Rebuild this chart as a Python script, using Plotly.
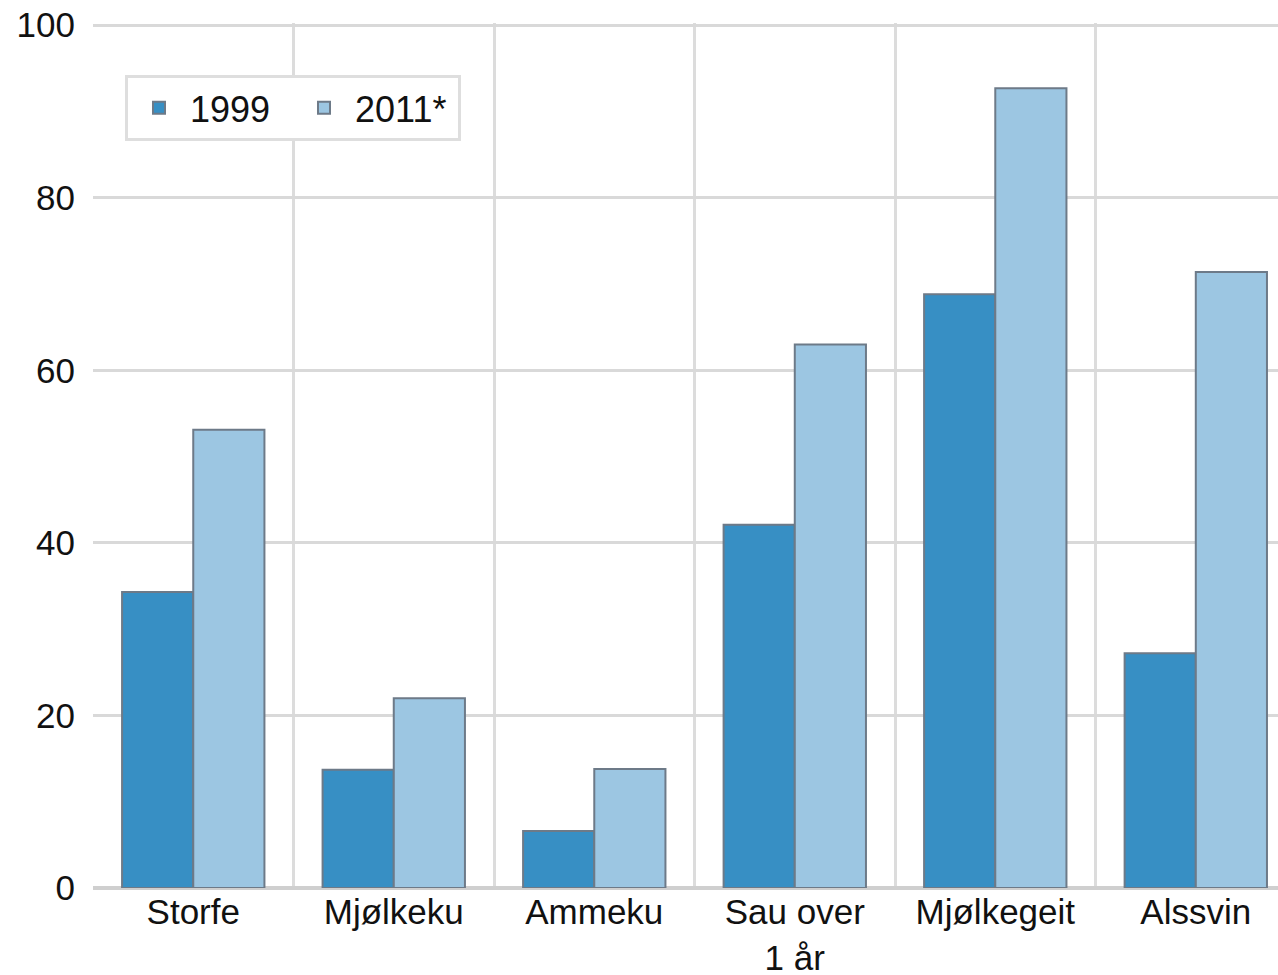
import plotly.graph_objects as go

categories = ["Storfe", "Mjølkeku", "Ammeku", "Sau over<br>1 år", "Mjølkegeit", "Alssvin"]
values_1999 = [34.3, 13.7, 6.6, 42.1, 68.8, 27.2]
values_2011 = [53.1, 22.0, 13.8, 63.0, 92.7, 71.4]
series_names = ["1999", "2011*"]
y_ticks = [0, 20, 40, 60, 80, 100]

FONT = "Liberation Sans, Arial, sans-serif"
outline = dict(color="#6d7a88", width=2)

fig = go.Figure()
fig.add_trace(go.Bar(x=categories, y=values_1999, name=series_names[0],
                     marker=dict(color="#378fc4", line=outline)))
fig.add_trace(go.Bar(x=categories, y=values_2011, name=series_names[1],
                     marker=dict(color="#9cc6e2", line=outline)))

fig.update_layout(
    template="none",
    width=1278, height=975,
    margin=dict(l=93, r=0, t=23, b=87, pad=0),
    paper_bgcolor="white", plot_bgcolor="white",
    barmode="group", bargap=0.29, bargroupgap=0,
    font=dict(family=FONT, size=35, color="#111111"),
    showlegend=True,
    legend=dict(
        orientation="h",
        x=0.027, y=0.94, xanchor="left", yanchor="top",
        bgcolor="white", bordercolor="#dedede", borderwidth=3,
        font=dict(family=FONT, size=36, color="#111111"),
        itemwidth=52,
        entrywidth=98, entrywidthmode="pixels",
    ),
    xaxis=dict(
        type="category",
        automargin=False,
        range=[-0.5, 5.41],
        tickson="boundaries",
        showgrid=True, gridcolor="#dcdcdc", gridwidth=3,
        ticks="", showline=False, zeroline=False,
        ticklabelstandoff=0,
        ticklabeloverflow="allow",
        tickfont=dict(family=FONT, size=35, color="#111111"),
    ),
    yaxis=dict(
        automargin=False,
        range=[0, 100.25],
        tickvals=y_ticks,
        ticktext=[str(v) for v in y_ticks],
        showgrid=True, gridcolor="#d9d9d9", gridwidth=3,
        zeroline=True, zerolinecolor="#cfcfcf", zerolinewidth=4,
        showline=False, ticks="",
        ticklabelstandoff=17,
        ticklabeloverflow="allow",
        tickfont=dict(family=FONT, size=35, color="#111111"),
    ),
)

fig.write_html("out.html", config={"displayModeBar": False},
               post_script="document.body.style.margin='0px';")
